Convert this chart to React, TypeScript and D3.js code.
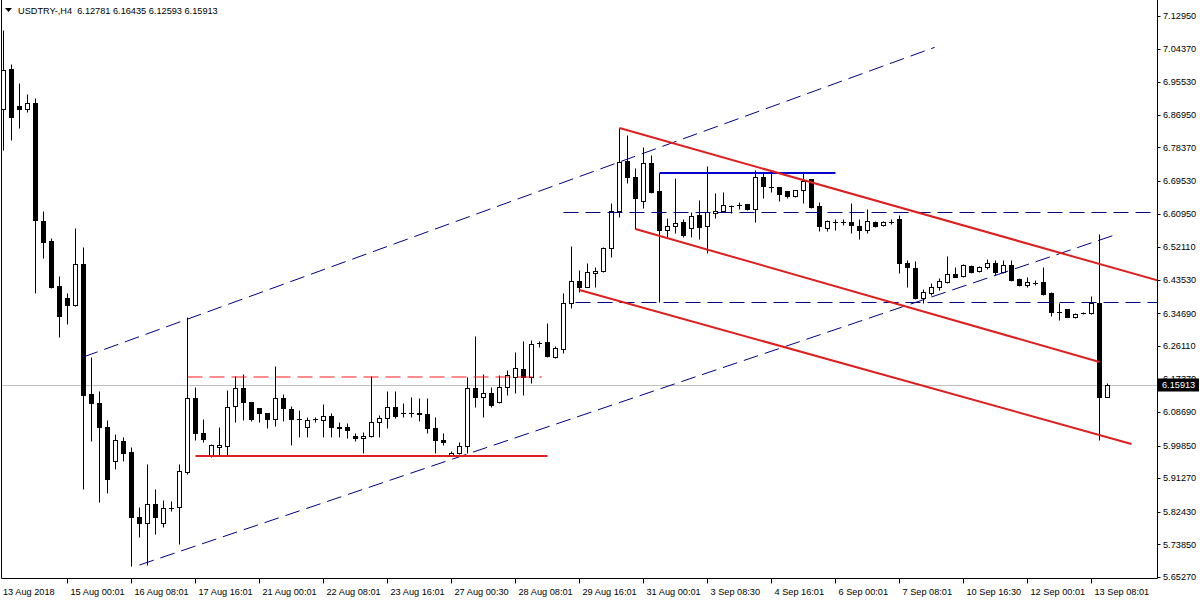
import React from 'react';
import * as d3 from 'd3';

const symbolTitle = 'USDTRY-,H4';
const lastQuote = [6.12781, 6.16435, 6.12593, 6.15913];

// [open, high, low, close]
const ohlc: [number, number, number, number][] = [
  [6.8847, 7.0926, 6.7768, 6.9873],
  [6.99, 7.0031, 6.8031, 6.8636],
  [6.8926, 6.9531, 6.8347, 6.8847],
  [6.8847, 6.9242, 6.8768, 6.9005],
  [6.9005, 6.9136, 6.4003, 6.5924],
  [6.5898, 6.6161, 6.4924, 6.5346],
  [6.5372, 6.5451, 6.4135, 6.4161],
  [6.4187, 6.4451, 6.2845, 6.3398],
  [6.3871, 6.4003, 6.3187, 6.3687],
  [6.3687, 6.5714, 6.3661, 6.4766],
  [6.4766, 6.5214, 5.8844, 6.1319],
  [6.1345, 6.2319, 6.0108, 6.1108],
  [6.1108, 6.1424, 5.8501, 6.0476],
  [6.0476, 6.066, 5.8739, 5.9107],
  [5.9581, 6.0292, 5.9371, 6.0134],
  [6.0108, 6.0213, 5.9581, 5.9792],
  [5.9818, 5.995, 5.6817, 5.8107],
  [5.8107, 5.837, 5.758, 5.7949],
  [5.7949, 5.9502, 5.6843, 5.8449],
  [5.8449, 5.8844, 5.7659, 5.8107],
  [5.7949, 5.8554, 5.7843, 5.8343],
  [5.8343, 5.8528, 5.8264, 5.834],
  [5.837, 5.9502, 5.7396, 5.9318],
  [5.9292, 6.3372, 5.9239, 6.124],
  [6.124, 6.1529, 6.0134, 6.0318],
  [6.0318, 6.0687, 6.0081, 6.016],
  [5.9739, 6.0029, 5.9687, 6.0002],
  [5.995, 6.0476, 5.9739, 6.0002],
  [5.9976, 6.145, 5.9739, 6.1003],
  [6.1029, 6.1819, 6.0608, 6.1503],
  [6.1503, 6.1871, 6.066, 6.1134],
  [6.1134, 6.1134, 6.0634, 6.0687],
  [6.0976, 6.0976, 6.0608, 6.0845],
  [6.0845, 6.0845, 6.045, 6.0687],
  [6.0687, 6.2082, 6.0503, 6.124],
  [6.124, 6.1345, 6.0634, 6.0976],
  [6.095, 6.1029, 6.0002, 6.0687],
  [6.0687, 6.0924, 6.0213, 6.0685],
  [6.0476, 6.0739, 6.0213, 6.066],
  [6.0687, 6.0739, 6.0608, 6.0689],
  [6.066, 6.1082, 6.0213, 6.0766],
  [6.0766, 6.0845, 6.0213, 6.0476],
  [6.0476, 6.0608, 6.0213, 6.045],
  [6.0476, 6.0582, 6.0187, 6.0397],
  [6.0239, 6.0318, 6.0108, 6.0187],
  [6.0187, 6.0345, 5.9792, 6.0239],
  [6.0239, 6.1819, 6.0213, 6.0608],
  [6.0608, 6.0792, 6.0213, 6.0713],
  [6.0713, 6.1424, 6.045, 6.1003],
  [6.1003, 6.1424, 6.0713, 6.0766],
  [6.0845, 6.1108, 6.0739, 6.0843],
  [6.0845, 6.1266, 6.0739, 6.0847],
  [6.0845, 6.124, 6.0634, 6.0818],
  [6.0818, 6.124, 6.0318, 6.045],
  [6.045, 6.0739, 5.9792, 6.0134],
  [6.0134, 6.0318, 6.0002, 6.0081],
  [5.9739, 5.9845, 5.9713, 5.9792],
  [5.9792, 6.0081, 5.9766, 5.9976],
  [5.9976, 6.1792, 5.9792, 6.1503],
  [6.1503, 6.2872, 6.1003, 6.1266],
  [6.1266, 6.1871, 6.0739, 6.1371],
  [6.1371, 6.1529, 6.1003, 6.1055],
  [6.1134, 6.1845, 6.1108, 6.1529],
  [6.1529, 6.1976, 6.1319, 6.1845],
  [6.1792, 6.245, 6.1371, 6.2029],
  [6.2003, 6.274, 6.1319, 6.1792],
  [6.1792, 6.2766, 6.1634, 6.2661],
  [6.2687, 6.274, 6.2582, 6.2685],
  [6.2713, 6.3214, 6.2319, 6.2345],
  [6.2319, 6.2608, 6.2292, 6.2556],
  [6.2529, 6.4003, 6.2424, 6.374],
  [6.374, 6.524, 6.3608, 6.4319],
  [6.4319, 6.4608, 6.4029, 6.4161],
  [6.4161, 6.4793, 6.4161, 6.4556],
  [6.453, 6.4687, 6.4161, 6.4582],
  [6.4582, 6.5214, 6.4556, 6.5188],
  [6.5188, 6.6372, 6.4951, 6.6161],
  [6.6161, 6.8347, 6.6003, 6.7452],
  [6.7478, 6.8163, 6.69, 6.7057],
  [6.7057, 6.7294, 6.5688, 6.6504],
  [6.6425, 6.7847, 6.624, 6.7426],
  [6.7426, 6.7636, 6.6636, 6.6663],
  [6.6689, 6.7163, 6.3766, 6.5661],
  [6.5661, 6.5977, 6.5477, 6.5767],
  [6.5767, 6.7031, 6.5582, 6.5846],
  [6.5872, 6.5951, 6.5477, 6.553],
  [6.5714, 6.6135, 6.5477, 6.603],
  [6.6056, 6.6451, 6.5425, 6.574],
  [6.5767, 6.7347, 6.5056, 6.6135],
  [6.6109, 6.6636, 6.5977, 6.6161],
  [6.6161, 6.6663, 6.6135, 6.6319],
  [6.6293, 6.6319, 6.6109, 6.6291],
  [6.6319, 6.6398, 6.6214, 6.6317],
  [6.6346, 6.6346, 6.6188, 6.6214],
  [6.6214, 6.7241, 6.5872, 6.7057],
  [6.7057, 6.7189, 6.6504, 6.6821],
  [6.6794, 6.7189, 6.6663, 6.6792],
  [6.6794, 6.6794, 6.6425, 6.661],
  [6.6689, 6.6689, 6.6504, 6.6557],
  [6.6557, 6.6715, 6.6531, 6.6715],
  [6.6715, 6.7189, 6.6372, 6.6952],
  [6.7005, 6.7005, 6.624, 6.6267],
  [6.6293, 6.6398, 6.5635, 6.5767],
  [6.5714, 6.5924, 6.5635, 6.5898],
  [6.5872, 6.5951, 6.5661, 6.587],
  [6.5872, 6.5951, 6.5793, 6.5874],
  [6.5872, 6.6372, 6.5582, 6.5793],
  [6.5767, 6.5951, 6.5425, 6.5661],
  [6.5661, 6.6214, 6.5582, 6.5898],
  [6.5872, 6.5898, 6.574, 6.5767],
  [6.5793, 6.5898, 6.5767, 6.5872],
  [6.5872, 6.5951, 6.5819, 6.587],
  [6.5951, 6.6056, 6.453, 6.4793],
  [6.4793, 6.4872, 6.4161, 6.4687],
  [6.4661, 6.4845, 6.3845, 6.3871],
  [6.3871, 6.4108, 6.374, 6.4029],
  [6.4003, 6.4266, 6.395, 6.4161],
  [6.4161, 6.4398, 6.4082, 6.4319],
  [6.4293, 6.4977, 6.4266, 6.4503],
  [6.4503, 6.4687, 6.4424, 6.4424],
  [6.4451, 6.4766, 6.4424, 6.474],
  [6.4714, 6.474, 6.453, 6.4556],
  [6.4582, 6.4714, 6.4556, 6.4687],
  [6.4687, 6.4898, 6.4635, 6.4793],
  [6.4793, 6.4872, 6.4477, 6.4556],
  [6.4556, 6.4872, 6.453, 6.474],
  [6.474, 6.4872, 6.4319, 6.4345],
  [6.4372, 6.4398, 6.4187, 6.4214],
  [6.4214, 6.4424, 6.4161, 6.4293],
  [6.4266, 6.4345, 6.4214, 6.4264],
  [6.4293, 6.4687, 6.395, 6.3977],
  [6.4003, 6.4029, 6.3398, 6.3503],
  [6.3503, 6.374, 6.3293, 6.3501],
  [6.3582, 6.3582, 6.3372, 6.3372],
  [6.3372, 6.3477, 6.3346, 6.345],
  [6.3477, 6.3503, 6.345, 6.3475],
  [6.3477, 6.3924, 6.345, 6.374],
  [6.374, 6.5556, 6.0134, 6.12781],
  [6.12781, 6.16435, 6.12593, 6.15913],
];

const dateLabels = [
  '13 Aug 2018', '15 Aug 00:01', '16 Aug 08:01', '17 Aug 16:01', '21 Aug 00:01',
  '22 Aug 08:01', '23 Aug 16:01', '27 Aug 00:30', '28 Aug 08:01', '29 Aug 16:01',
  '31 Aug 00:01', '3 Sep 08:30', '4 Sep 16:01', '6 Sep 00:01', '7 Sep 08:01',
  '10 Sep 16:30', '12 Sep 00:01', '13 Sep 08:01',
];
const dateLabelStep = 8;

const priceTicks = [
  7.1295, 7.0437, 6.9553, 6.8695, 6.7837, 6.6953, 6.6095, 6.5211, 6.4353,
  6.3469, 6.2611, 6.1737, 6.0869, 5.9985, 5.9127, 5.8243, 5.7385, 5.6527,
];

// trend objects: [barIndex1, price1, barIndex2, price2]
const blueDashedLines = [
  [10, 6.2319, 116.4, 7.0471],
  [17, 5.6843, 138.9, 6.553],
  [70, 6.6135, 146, 6.6135],
  [71.5, 6.3766, 146, 6.3766],
];
const blueSolidLines = [[82, 6.7163, 104, 6.7163]];
const redSolidLines = [
  [77, 6.8347, 145, 6.4289],
  [79, 6.5688, 137, 6.2187],
  [72, 6.4082, 141, 6.0029],
  [24, 5.9713, 68, 5.9713],
];
const redDashedLines = [[23, 6.1792, 67.3, 6.1792]];

const W = 1200;
const H = 600;
const PLOT_RIGHT = 1157.5;
const PLOT_BOTTOM = 578.5;
const FONT = "'Liberation Sans', Arial, sans-serif";
const FS = 9.2;

export default function App() {
  const x = d3.scaleLinear().domain([0, 138]).range([3.5, 1107.5]);
  const y = d3.scaleLinear().domain([5.6527, 7.1295]).range([577, 16]);
  const py = (p: number) => Math.round(y(p)) + 0.5;
  const fmt = d3.format('.5f');
  const last = lastQuote[3];

  const seg = (l: number[], i: number, stroke: string, sw: number, dash?: string) => {
    const horiz = l[1] === l[3];
    const ya = horiz ? (sw % 2 === 1 ? py(l[1]) : Math.round(y(l[1]))) : y(l[1]);
    const yb = horiz ? ya : y(l[3]);
    return (
      <line
        key={i}
        x1={x(l[0])}
        y1={ya}
        x2={x(l[2])}
        y2={yb}
        stroke={stroke}
        strokeWidth={sw}
        strokeDasharray={dash}
      />
    );
  };

  return (
    <svg
      width={W}
      height={H}
      style={{ position: 'absolute', left: 0, top: 0, background: '#fff' }}
      fontFamily={FONT}
    >
      <defs>
        <clipPath id="plot">
          <rect x={2} y={1} width={PLOT_RIGHT - 2} height={PLOT_BOTTOM - 1} />
        </clipPath>
      </defs>
      <rect width={W} height={H} fill="#fff" />

      <g clipPath="url(#plot)">
        {/* bid line */}
        <line x1={0} x2={PLOT_RIGHT} y1={py(last)} y2={py(last)} stroke="#c0c0c0" strokeWidth={1} />

        {/* candles */}
        {ohlc.map((d, i) => {
          const [o, h, l, c] = d;
          const cx = x(i);
          const up = c >= o;
          const top = py(Math.max(o, c));
          const bot = py(Math.min(o, c));
          return (
            <g key={i}>
              <line x1={cx} x2={cx} y1={py(h)} y2={py(l)} stroke="#000" strokeWidth={1} />
              {bot - top < 1 ? (
                <line x1={cx - 2.5} x2={cx + 2.5} y1={top} y2={top} stroke="#000" strokeWidth={1} />
              ) : (
                <rect
                  x={cx - 2}
                  y={top}
                  width={4}
                  height={bot - top}
                  fill={up ? '#fff' : '#000'}
                  stroke="#000"
                  strokeWidth={1}
                />
              )}
            </g>
          );
        })}

        {/* objects */}
        {blueDashedLines.map((l, i) => seg(l, i, '#000080', 1, '15,7'))}
        {blueSolidLines.map((l, i) => seg(l, i, '#0000cd', 2))}
        {redSolidLines.map((l, i) => seg(l, i, '#dd1f1f', 2))}
        {redDashedLines.map((l, i) => seg(l, i, '#ff1a1a', 1.2, '15,7'))}
      </g>

      {/* frame */}
      <line x1={1.5} x2={1.5} y1={0} y2={PLOT_BOTTOM} stroke="#000" />
      <line x1={1.5} x2={PLOT_RIGHT} y1={PLOT_BOTTOM} y2={PLOT_BOTTOM} stroke="#000" />
      <line x1={PLOT_RIGHT} x2={PLOT_RIGHT} y1={0} y2={PLOT_BOTTOM} stroke="#000" />

      {/* price axis */}
      {priceTicks.map((t) => (
        <g key={t}>
          <line x1={PLOT_RIGHT} x2={PLOT_RIGHT + 3} y1={py(t)} y2={py(t)} stroke="#000" />
          <text x={1163} y={y(t)} dy="0.35em" fontSize={FS} fill="#000">
            {fmt(t)}
          </text>
        </g>
      ))}
      <rect x={1158} y={py(last) - 7} width={41} height={13} fill="#000" />
      <text x={1162} y={y(last)} dy="0.35em" fontSize={FS} fill="#fff">
        {fmt(last)}
      </text>

      {/* time axis */}
      {dateLabels.map((lab, i) => {
        const xi = x(i * dateLabelStep);
        return (
          <g key={lab}>
            {i > 0 && <line x1={xi} x2={xi} y1={PLOT_BOTTOM} y2={PLOT_BOTTOM + 5} stroke="#000" />}
            <text x={i === 0 ? 3 : xi + 3} y={595} fontSize={FS} fill="#000">
              {lab}
            </text>
          </g>
        );
      })}

      {/* header */}
      <path d="M5,8 L12,8 L8.5,12 Z" fill="#000" />
      <text x={18} y={14} fontSize={FS} fill="#000" style={{ whiteSpace: 'pre' }}>
        {`${symbolTitle}  ${lastQuote.map((v) => fmt(v)).join(' ')}`}
      </text>
    </svg>
  );
}
